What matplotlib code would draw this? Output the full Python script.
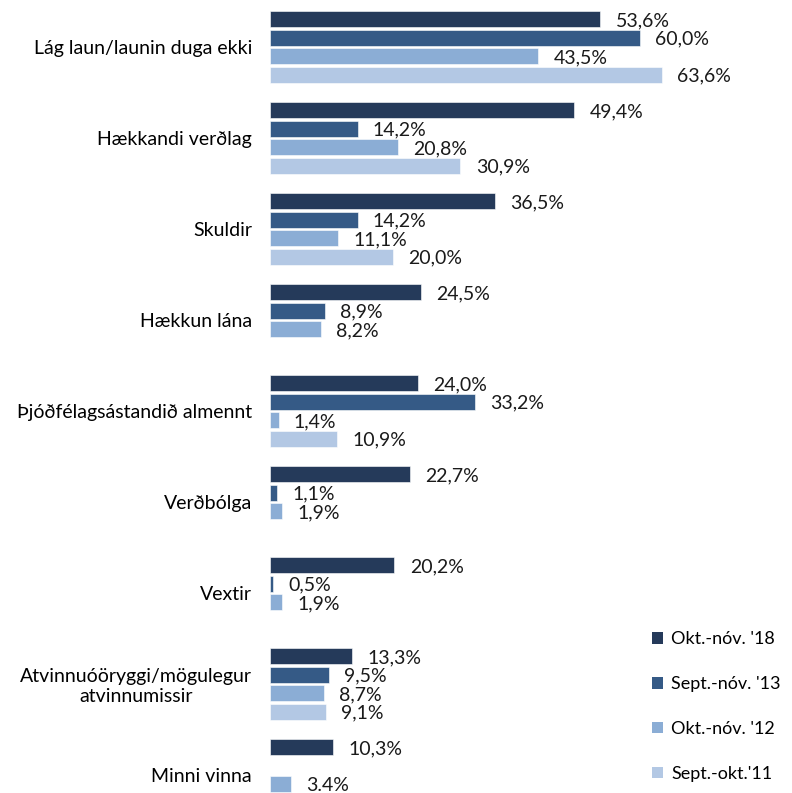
import numpy as np
import matplotlib
matplotlib.use("Agg")
import matplotlib.pyplot as plt
from matplotlib.patches import Patch

plt.rcParams['font.family'] = ['Lato', 'DejaVu Sans']

categories = [
    "Lág laun/launin duga ekki",
    "Hækkandi verðlag",
    "Skuldir",
    "Hækkun lána",
    "Þjóðfélagsástandið almennt",
    "Verðbólga",
    "Vextir",
    "Atvinnuóöryggi/mögulegur\natvinnumissir",
    "Minni vinna",
]
series_names = ["Okt.-nóv. '18", "Sept.-nóv. '13", "Okt.-nóv. '12", "Sept.-okt.'11"]
okt_nov_18 = [53.6, 49.4, 36.5, 24.5, 24.0, 22.7, 20.2, 13.3, 10.3]
sept_nov_13 = [60.0, 14.2, 14.2, 8.9, 33.2, 1.1, 0.5, 9.5, np.nan]
okt_nov_12 = [43.5, 20.8, 11.1, 8.2, 1.4, 1.9, 1.9, 8.7, 3.4]
sept_okt_11 = [63.6, 30.9, 20.0, np.nan, 10.9, np.nan, np.nan, 9.1, np.nan]
series = [okt_nov_18, sept_nov_13, okt_nov_12, sept_okt_11]
colors = ["#253a5a", "#355a86", "#8badd5", "#b3c8e4"]

# einn merkimiði í frumritinu er með punkti
label_override = {(8, 2): "3.4%"}

fig = plt.figure(figsize=(7.92, 7.93), dpi=100)
ax = fig.add_axes([270 / 792, 0, 522 / 792, 1])

y = np.arange(len(categories))
slot = 0.203
bar_h = 0.178
for j, (vals, col) in enumerate(zip(series, colors)):
    pos = y + (j - 1.5) * slot
    for i, v in enumerate(vals):
        if np.isnan(v):
            continue
        ax.barh(pos[i], v, height=bar_h, color=col, edgecolor='white', linewidth=0.4)
        txt = label_override.get((i, j), f"{v:.1f}%".replace('.', ','))
        ax.annotate(txt, (v, pos[i]), xytext=(11, -1), textcoords='offset points',
                    ha='left', va='center', fontsize=14, color='#1a1a1a')

ax.set_xlim(0, 84.7)
ax.set_ylim(8.198, -0.516)
ax.set_yticks(y)
ax.set_yticklabels(categories, fontsize=14, multialignment='center')
ax.tick_params(axis='y', length=0, pad=13)
ax.set_xticks([])
for s in ax.spines.values():
    s.set_visible(False)

handles = [Patch(facecolor=c, edgecolor='none') for c in colors]
ax.legend(handles, series_names, loc='upper left', bbox_to_anchor=(0.718, 0.213),
          frameon=False, fontsize=13, handlelength=0.6, handleheight=0.6,
          handletextpad=0.45, labelspacing=1.6, borderaxespad=0)

fig.savefig("out.png", dpi=100)
